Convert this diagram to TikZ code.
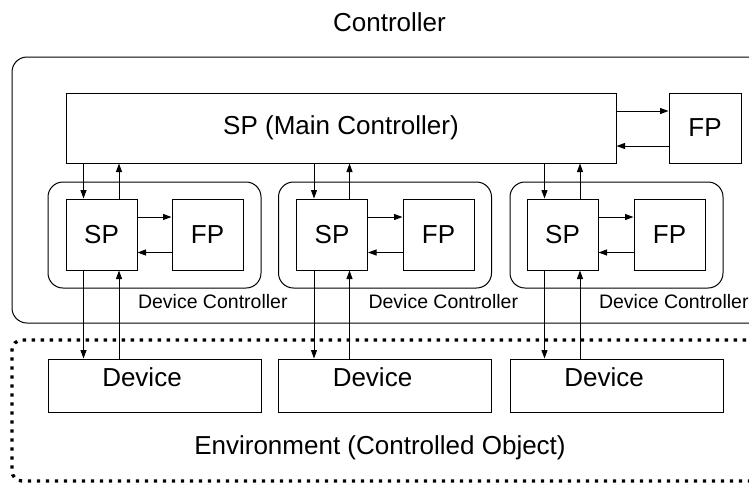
\documentclass[tikz,border=0pt]{standalone}
\usepackage{fontspec}
\setmainfont{Liberation Sans}
\usetikzlibrary{arrows.meta}

\begin{document}
\begin{tikzpicture}[x=1pt,y=-1pt,
  line width=1pt,
  big/.style={font=\fontsize{26}{30}\selectfont},
  small/.style={font=\fontsize{19.5}{23}\selectfont},
  blk/.style={draw, inner sep=0pt, big},
  sqbox/.style={blk, minimum width=71pt, minimum height=71pt},
  cont/.style={draw, rounded corners=#1, inner sep=0pt},
  arr/.style={-{Triangle[length=8.5pt,width=6pt]}},
  envline/.style={draw, line width=3.3pt, dash pattern=on 3.3pt off 5.7pt, rounded corners=10pt, inner sep=0pt},
]
\useasboundingbox (0,0) rectangle (749,483);

% outer controller and environment frames
\node[big] (ttl) at (389.5,22) {Controller};
\node[cont=15pt, minimum width=753pt, minimum height=266pt] (ctrl) at (388.5,190) {};
\node[envline, minimum width=753pt, minimum height=141pt] (env) at (388.5,410.5) {};
\node[big] (envlbl) at (380,448) {Environment (Controlled Object)};

% main controller
\node[blk, minimum width=550pt, minimum height=70pt] (main) at (341,128) {SP (Main Controller)};
\node[blk, minimum width=72pt, minimum height=70pt] (fp0) at (705,128) {FP};
\draw[arr] ([yshift=17pt]main.east) -- ([yshift=17pt]main.east -| fp0.west);
\draw[arr] ([yshift=-18pt]fp0.west) -- ([yshift=-18pt]fp0.west -| main.east);

% device controllers
\foreach \i/\dx/\sx/\fx in {1/154.5/101.5/207.5, 2/385/332/438.5, 3/616.5/562.5/669.5} {
  \node[cont=15pt, minimum width=213pt, minimum height=106pt] (dc\i) at (\dx,235) {};
  \node[sqbox] (sp\i) at (\sx,234.5) {SP};
  \node[sqbox] (fp\i) at (\fx,234.5) {FP};
  \node[small, anchor=west, inner sep=0pt] (dcl\i) at (sp\i.east |- 0,302) {Device Controller};
  \node[draw, inner sep=0pt, minimum width=213pt, minimum height=53pt,
        label={[big, xshift=-12.5pt, yshift=8.5pt]center:Device}] (dev\i) at (\dx,385.5) {};
  % SP <-> FP
  \draw[arr] ([yshift=17.5pt]sp\i.east) -- ([yshift=17.5pt]sp\i.east -| fp\i.west);
  \draw[arr] ([yshift=-18pt]fp\i.west) -- ([yshift=-18pt]fp\i.west -| sp\i.east);
  % main <-> SP
  \draw[arr] ([xshift=-18pt]sp\i.north |- main.south) -- ([xshift=-18pt]sp\i.north);
  \draw[arr] ([xshift=17.5pt]sp\i.north) -- ([xshift=17.5pt]sp\i.north |- main.south);
  % SP <-> device
  \draw[arr] ([xshift=-18pt]sp\i.south) -- ([xshift=-18pt]sp\i.south |- dev\i.north);
  \draw[arr] ([xshift=17.5pt]sp\i.south |- dev\i.north) -- ([xshift=17.5pt]sp\i.south);
}
\end{tikzpicture}
\end{document}
